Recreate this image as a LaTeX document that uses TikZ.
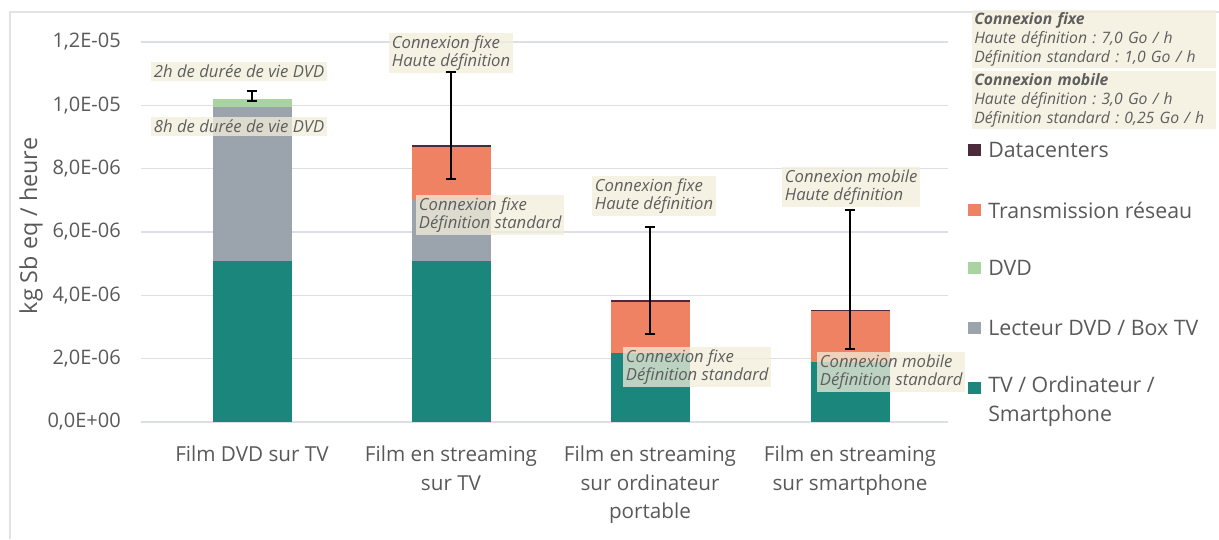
\documentclass[tikz,border=0pt]{standalone}
\usepackage{fontspec}
\setmainfont{Open Sans}
\usetikzlibrary{positioning, arrows.meta}
\definecolor{tvcol}{HTML}{1B867B}
\definecolor{boxcol}{HTML}{9BA3AD}
\definecolor{dvdcol}{HTML}{A9D3A1}
\definecolor{netcol}{HTML}{EE8262}
\definecolor{dccol}{HTML}{4B2B3B}
\definecolor{gridcol}{HTML}{DCDFE3}
\definecolor{framecol}{HTML}{E3E3E3}
\definecolor{txtcol}{HTML}{595959}
\definecolor{notebg}{HTML}{F2EEDA}
\definecolor{notetxt}{HTML}{5E5E5E}
\tikzset{gridline/.style={draw=gridcol, line width=1.2pt}}
\tikzset{errbar/.style={line width=1.5pt, {Bar[width=8pt]}-{Bar[width=8pt]}}}
\tikzset{note/.style={fill=notebg, fill opacity=0.75, text opacity=1, text=notetxt, font=\fontsize{12.5}{13.5}\selectfont\itshape, align=left, inner sep=2pt, anchor=north west}}
\tikzset{legbox/.style={minimum size=9.5pt, inner sep=0pt, anchor=west}}
\tikzset{legtext/.style={text=txtcol, font=\fontsize{16}{21.5}\selectfont, align=left, anchor=west, inner sep=0pt}}
\newcommand{\barpart}[4]{\fill[#4] (#1-39.5,#2) rectangle (#1+39.5,#3);}

\begin{document}
\frenchspacing
\begin{tikzpicture}[x=0.75pt, y=-0.75pt, font=\fontsize{15.5}{21.5}\selectfont, text=txtcol]
    \useasboundingbox (0,0) rectangle (1219,539);
    \draw[framecol, line width=1pt] (10,539) -- (10,12) -- (1219,12);
    % values in 1E-06
    \begin{scope}[shift={(0,422)}, y=23.75pt]
        \foreach \v/\txt in {0/0{,}0E+00, 2/2{,}0E-06, 4/4{,}0E-06, 6/6{,}0E-06, 8/8{,}0E-06, 10/1{,}0E-05, 12/1{,}2E-05} {
            \draw[gridline] (141,\v) -- (948,\v);
            \node[anchor=east, inner sep=0pt, font=\fontsize{15}{18}\selectfont] (tick\v) at (121,\v) {\txt};
        }
        % Film DVD sur TV
        \barpart{252}{0}{5.1}{tvcol}
        \barpart{252}{5.1}{9.95}{boxcol}
        \barpart{252}{9.95}{10.2}{dvdcol}
        % streaming TV
        \barpart{451}{0}{5.1}{tvcol}
        \barpart{451}{5.1}{7.0}{boxcol}
        \barpart{451}{7.0}{8.7}{netcol}
        \barpart{451}{8.7}{8.75}{dccol}
        % streaming ordinateur
        \barpart{650}{0}{2.18}{tvcol}
        \barpart{650}{2.18}{3.79}{netcol}
        \barpart{650}{3.79}{3.84}{dccol}
        % streaming smartphone
        \barpart{850}{0}{1.89}{tvcol}
        \barpart{850}{1.89}{3.50}{netcol}
        \barpart{850}{3.50}{3.55}{dccol}
        \coordinate (e1top) at (252,10.5);
        \coordinate (e1bot) at (252,10.1);
        \coordinate (e2top) at (451,11.1);
        \coordinate (e2bot) at (451,7.64);
        \coordinate (e3top) at (650,6.19);
        \coordinate (e3bot) at (650,2.75);
        \coordinate (e4top) at (850,6.73);
        \coordinate (e4bot) at (850,2.27);
    \end{scope}

    \node[note] (dvd2h) at (151,62) {2h de durée de vie DVD};
    \node[note] (dvd8h) at (151,117) {8h de durée de vie DVD};
    \node[note] (tvhd) at (389,33) {Connexion fixe\\Haute définition};
    \node[note] (tvsd) at (416,195) {Connexion fixe\\Définition standard};
    \node[note] (pchd) at (592,176) {Connexion fixe\\Haute définition};
    \node[note] (pcsd) at (623,347) {Connexion fixe\\Définition standard};
    \node[note] (smhd) at (782,167) {Connexion mobile\\Haute définition};
    \node[note] (smsd) at (817,352) {Connexion mobile\\Définition standard};

    \foreach \i in {1,...,4}
        \draw[errbar] (e\i bot) -- (e\i top);

    \node[rotate=90, font=\fontsize{17.5}{20}\selectfont] (ylab) at (31,226) {kg Sb eq / heure};
    \node[anchor=north, align=center] (cat1) at (252,441) {Film DVD sur TV};
    \node[anchor=north, align=center] (cat2) at (451,441) {Film en streaming\\sur TV};
    \node[anchor=north, align=center] (cat3) at (650,441) {Film en streaming\\sur ordinateur\\portable};
    \node[anchor=north, align=center] (cat4) at (850,441) {Film en streaming\\sur smartphone};

    % legend
    \node[note, text width=180pt, font=\fontsize{11.8}{14.25}\selectfont\itshape, inner sep=1.5pt] (fixe) at (972,10)
        {{\bfseries Connexion fixe}\\Haute définition : 7,0 Go / h\\Définition standard : 1,0 Go / h};
    \node[note, text width=180pt, font=\fontsize{11.8}{14.25}\selectfont\itshape, inner sep=1.5pt] (mobile) at (972,71)
        {{\bfseries Connexion mobile}\\Haute définition : 3,0 Go / h\\Définition standard : 0,25 Go / h};
    \foreach \y/\c/\txt in {150/dccol/{Datacenters}, 210/netcol/{Transmission réseau}, 268/dvdcol/{DVD}, 328/boxcol/{Lecteur DVD / Box TV}} {
        \node[legbox, fill=\c] (key\y) at (968,\y) {};
        \node[legtext] (lab\y) at (988,\y) {\txt};
    }
    \node[legbox, fill=tvcol] (keytv) at (968,388) {};
    \node[legtext, anchor=north west] (labtv) at (988,376) {TV / Ordinateur /\\Smartphone};
\end{tikzpicture}
\end{document}
